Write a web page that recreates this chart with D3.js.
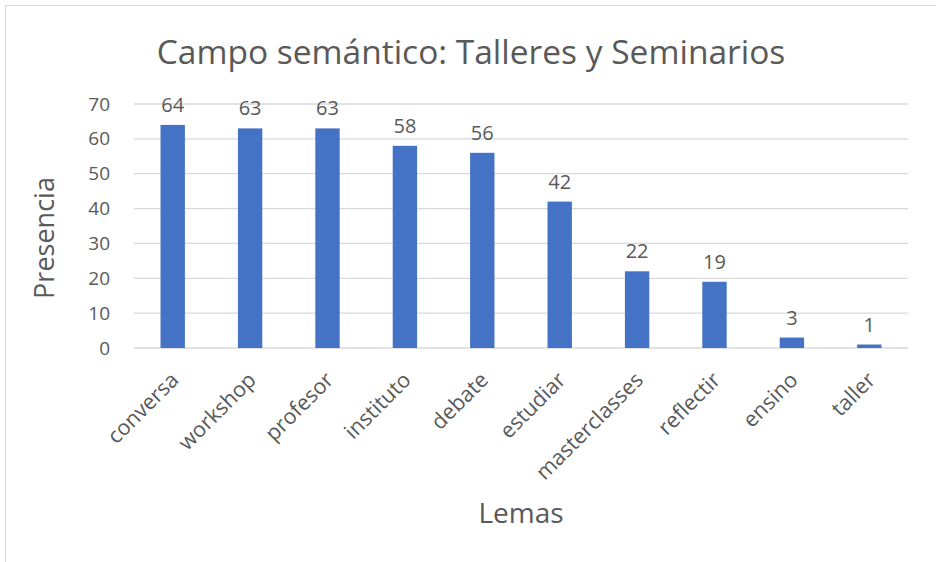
<!DOCTYPE html>
<html>
<head>
<meta charset="utf-8">
<script src="https://cdn.jsdelivr.net/npm/d3@7"></script>
<style>
  body { margin: 0; background: #fff; }
  text { font-family: "Open Sans", "Noto Sans", sans-serif; fill: #595959; }
</style>
</head>
<body>
<div id="chart"></div>
<script>
// Data
const lemas = ['conversa', 'workshop', 'profesor', 'instituto', 'debate',
  'estudiar', 'masterclasses', 'reflectir', 'ensino', 'taller'];
const presencia = [64, 63, 63, 58, 56, 42, 22, 19, 3, 1];
const yTicks = [0, 10, 20, 30, 40, 50, 60, 70];

let width = 936,
  height = 562;
const margin = { top: 104, right: 28, bottom: 214, left: 134 };

const svg = d3
  .select('#chart')
  .append('svg')
  .attr('width', width)
  .attr('height', height);

// chart frame
svg.append('rect')
  .attr('x', 5.5).attr('y', 5.5)
  .attr('width', width + 10).attr('height', height + 10)
  .attr('fill', 'none')
  .attr('stroke', '#d9d9d9');

const x = d3.scaleBand()
  .domain(lemas)
  .range([margin.left, width - margin.right])
  .paddingInner(0.685)
  .paddingOuter(0.3425);

const y = d3.scaleLinear()
  .domain([0, 70])
  .range([height - margin.bottom, margin.top]);

// gridlines
svg.append('g')
  .selectAll('line')
  .data(yTicks)
  .join('line')
  .attr('x1', margin.left)
  .attr('x2', width - margin.right)
  .attr('y1', (d) => y(d))
  .attr('y2', (d) => y(d))
  .attr('stroke', '#d9d9d9')
  .attr('stroke-width', 1.3);

// y axis labels
const yAxis = d3.axisLeft(y).tickValues(yTicks).tickSize(0).tickPadding(24);
svg.append('g')
  .attr('transform', `translate(${margin.left},0)`)
  .call(yAxis)
  .call((g) => g.select('.domain').remove())
  .selectAll('text')
  .style('font-size', '19px')
  .attr('fill', '#595959');

// bars
svg.append('g')
  .selectAll('rect')
  .data(lemas)
  .join('rect')
  .attr('x', (d) => x(d))
  .attr('width', x.bandwidth())
  .attr('y', (d, i) => y(presencia[i]))
  .attr('height', (d, i) => y(0) - y(presencia[i]))
  .attr('fill', '#4472c4');

// value labels
svg.append('g')
  .selectAll('text')
  .data(lemas)
  .join('text')
  .attr('x', (d) => x(d) + x.bandwidth() / 2)
  .attr('y', (d, i) => y(presencia[i]) - 13)
  .attr('text-anchor', 'middle')
  .style('font-size', '20px')
  .text((d, i) => presencia[i]);

// x axis labels, rotated
const xAxis = d3.axisBottom(x).tickSize(0).tickPadding(0);
svg.append('g')
  .attr('transform', `translate(0,${y(0)})`)
  .call(xAxis)
  .call((g) => g.select('.domain').remove())
  .selectAll('text')
  .style('font-size', '21.5px')
  .attr('fill', '#595959')
  .attr('text-anchor', 'end')
  .attr('dy', '0.35em')
  .attr('transform', 'translate(2,28) rotate(-45)');

// title
svg.append('text')
  .attr('x', 471)
  .attr('y', 64)
  .attr('text-anchor', 'middle')
  .style('font-size', '33.5px')
  .text('Campo semántico: Talleres y Seminarios');

// axis titles
svg.append('text')
  .attr('x', (margin.left + width - margin.right) / 2)
  .attr('y', 523)
  .attr('text-anchor', 'middle')
  .style('font-size', '28px')
  .text('Lemas');

svg.append('text')
  .attr('transform', 'translate(54,238) rotate(-90)')
  .attr('text-anchor', 'middle')
  .style('font-size', '27px')
  .text('Presencia');
</script>
</body>
</html>
